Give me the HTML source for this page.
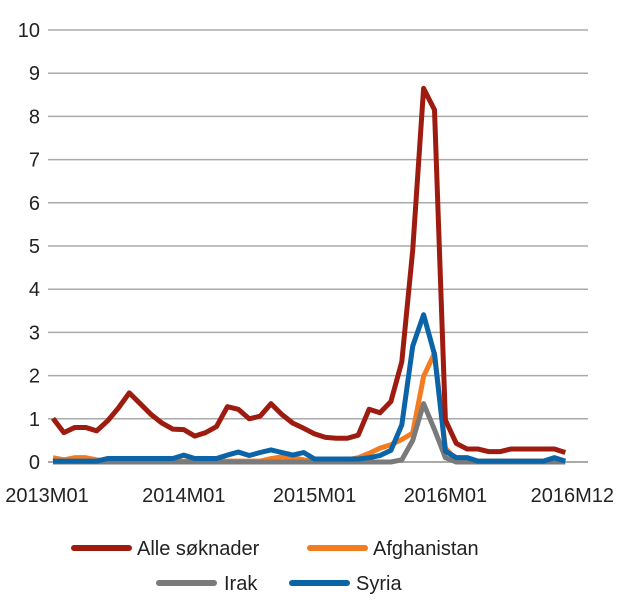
<!DOCTYPE html>
<html><head><meta charset="utf-8"><style>
html,body{margin:0;padding:0;background:#fff;}
svg text{font-family:"Liberation Sans",Arial,sans-serif;fill:#222;}
</style></head><body>
<svg id="chart" width="620" height="610" viewBox="0 0 620 610" xmlns="http://www.w3.org/2000/svg">
<g id="grid"></g>
<g id="yticks"></g>
<g id="xticks"></g>
<g id="series"></g>
<g font-size="20">
  <g><line x1="74" y1="548" x2="129" y2="548" stroke="#9e1b10" stroke-width="6" stroke-linecap="round"/><text x="137" y="555" font-size="20">Alle søknader</text></g>
  <g><line x1="310" y1="548" x2="365" y2="548" stroke="#f47c20" stroke-width="6" stroke-linecap="round"/><text x="373" y="555" font-size="20">Afghanistan</text></g>
  <g><line x1="159" y1="583" x2="214" y2="583" stroke="#7a7a7a" stroke-width="6" stroke-linecap="round"/><text x="224" y="590" font-size="20">Irak</text></g>
  <g><line x1="292" y1="583" x2="347" y2="583" stroke="#0b64a8" stroke-width="6" stroke-linecap="round"/><text x="356" y="590" font-size="20">Syria</text></g>
</g>
</svg>
<script>
const yTicks=[0,1,2,3,4,5,6,7,8,9,10];
const xLabelIdx=[0,12,24,36,47];
const xLabels=["2013M01","2014M01","2015M01","2016M01","2016M12"];
const alle=[1.01,0.68,0.8,0.8,0.72,0.95,1.25,1.6,1.35,1.1,0.9,0.76,0.75,0.6,0.68,0.82,1.28,1.22,1.0,1.06,1.35,1.1,0.9,0.78,0.65,0.57,0.55,0.55,0.62,1.22,1.14,1.4,2.32,4.9,8.65,8.15,0.97,0.43,0.3,0.3,0.24,0.24,0.3,0.3,0.3,0.3,0.3,0.22];
const afghanistan=[0.1,0.05,0.1,0.1,0.05,0.02,0.02,0.02,0.02,0.02,0.02,0.02,0.02,0.02,0.02,0.02,0.02,0.02,0.02,0.02,0.08,0.12,0.1,0.05,0.02,0.02,0.02,0.05,0.1,0.2,0.32,0.4,0.52,0.67,1.98,2.52,0.32,0.05,0.02,0.02,0.02,0.02,0.02,0.02,0.02,0.02,0.02,0.02];
const irak=[0,0,0,0,0,0,0,0,0,0,0,0,0,0,0,0,0,0,0,0,0,0,0,0,0,0,0,0,0,0,0,0,0.05,0.5,1.35,0.75,0.1,0,0,0,0,0,0,0,0,0,0,0];
const syria=[0.02,0.02,0.02,0.02,0.02,0.08,0.08,0.08,0.08,0.08,0.08,0.08,0.16,0.08,0.08,0.08,0.16,0.23,0.15,0.22,0.28,0.22,0.16,0.22,0.07,0.07,0.07,0.07,0.07,0.1,0.15,0.27,0.86,2.68,3.41,2.49,0.25,0.1,0.1,0.02,0.02,0.02,0.02,0.02,0.02,0.02,0.1,0.02];
const NS="http://www.w3.org/2000/svg";
const x0=53,step=10.9,yZero=462,yUnit=43.2;
const xs=i=>x0+i*step, ys=v=>yZero-v*yUnit;
const grid=document.getElementById('grid'),yt=document.getElementById('yticks'),xt=document.getElementById('xticks'),ser=document.getElementById('series');
yTicks.forEach(t=>{
  const l=document.createElementNS(NS,'line');
  
  
  l.setAttribute('x1',48);l.setAttribute('x2',588);l.setAttribute('y1',ys(t));l.setAttribute('y2',ys(t));
  l.setAttribute('stroke','#aaaaaa');l.setAttribute('stroke-width',t===0?2:1.5);
  grid.appendChild(l);
  const tx=document.createElementNS(NS,'text');
  
  
  tx.setAttribute('x',40);tx.setAttribute('y',ys(t)+7);tx.setAttribute('text-anchor','end');tx.setAttribute('font-size','20');
  tx.textContent=t;yt.appendChild(tx);
});
xLabelIdx.forEach((i,k)=>{
  const tx=document.createElementNS(NS,'text');
  
  
  tx.setAttribute('x',xs(i)+(k===0?-6:(k===4?7:0)));tx.setAttribute('y',502);tx.setAttribute('text-anchor','middle');tx.setAttribute('font-size','20');
  tx.textContent=xLabels[k];xt.appendChild(tx);
});
[[afghanistan,'#f47c20','afghanistan'],[irak,'#7a7a7a','irak'],[syria,'#0b64a8','syria'],[alle,'#9e1b10','alle-soknader']].forEach(([d,c,n])=>{
  const p=document.createElementNS(NS,'polyline');
  
  
  p.setAttribute('points',d.map((v,i)=>xs(i)+','+ys(v)).join(' '));
  p.setAttribute('fill','none');p.setAttribute('stroke',c);p.setAttribute('stroke-width',5);p.setAttribute('stroke-linejoin','round');
  ser.appendChild(p);
});
</script>
</body></html>
